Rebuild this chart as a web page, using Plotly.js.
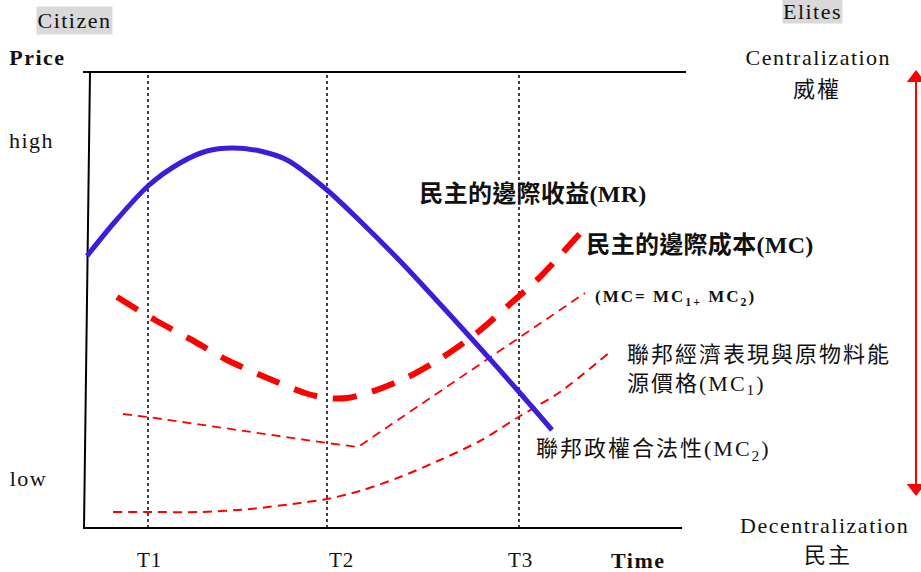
<!DOCTYPE html>
<html>
<head>
<meta charset="utf-8">
<script src="https://cdn.plot.ly/plotly-3.0.1.min.js"></script>
<style>
html,body{margin:0;padding:0;background:#fff;}
#chart{width:921px;height:572px;}
</style>
</head>
<body>
<div id="chart"></div>
<script>
// ---------- data (time units from the vertical axis, price units from the time axis) ----------
const timeTicks = [64, 243, 435];
const timeTickLabels = ['T1', 'T2', 'T3'];
const priceTop = 456;

// Marginal revenue of democracy (MR)
const mrTime  = [3, 29, 64, 96, 123, 148, 176, 203, 243, 276, 316, 356, 396, 436, 468];
const mrPrice = [272, 304, 342, 365, 377, 380, 377, 368, 338, 307, 267, 224, 180, 135, 98];

// Marginal cost of democracy (MC)
const mcTime  = [33, 71, 108, 143, 181, 221, 243, 263, 284, 324, 359, 394, 426, 453, 500];
const mcPrice = [231, 208, 188, 168, 151, 135, 130, 130, 135, 151, 171, 196, 224, 248, 299];

// (MC = MC1 + MC2) thin line
const mcSumTime  = [39, 64, 243, 274, 501];
const mcSumPrice = [114, 111, 85, 81, 235];

// lower thin curve
const mcLowTime  = [29, 64, 116, 166, 216, 243, 276, 316, 356, 396, 436, 476, 526];
const mcLowPrice = [16, 16, 16, 19, 25, 29, 37, 51, 68, 87, 112, 136, 176];

// centralization arrow (right side)
const arrowTime = 832;
const arrowPrice = [40, 450];

// ---------- traces ----------
const black = '#000000';
const red = '#ff0000';
const traces = [
  // axes frame
  {x: [6, 0, 598], y: [priceTop, 0, 0], mode: 'lines', line: {color: black, width: 2}, hoverinfo: 'skip'},
  {x: [-1, 602], y: [priceTop, priceTop], mode: 'lines', line: {color: black, width: 2}, hoverinfo: 'skip'},
  // T1-T3 dotted verticals
  {x: [timeTicks[0], timeTicks[0], null, timeTicks[1], timeTicks[1], null, timeTicks[2], timeTicks[2]],
   y: [0, priceTop, null, 0, priceTop, null, 0, priceTop],
   mode: 'lines', line: {color: black, width: 1.5, dash: 'dot'}, hoverinfo: 'skip'},
  // thin dashed lines
  {x: mcLowTime, y: mcLowPrice, mode: 'lines', line: {color: red, width: 2, dash: '9px,6px', shape: 'spline', smoothing: 0.8}},
  {x: mcSumTime, y: mcSumPrice, mode: 'lines', line: {color: red, width: 1.8, dash: '9px,6px'}},
  // MC thick dashed
  {x: mcTime, y: mcPrice, mode: 'lines', line: {color: red, width: 6, dash: '24px,16px', shape: 'spline', smoothing: 0.8}},
  // MR blue
  {x: mrTime, y: mrPrice, mode: 'lines', line: {color: '#3b1ed8', width: 5, shape: 'spline', smoothing: 0.8}},
  // arrow
  {x: [arrowTime, arrowTime], y: arrowPrice, mode: 'lines', line: {color: red, width: 2}},
  {x: [arrowTime, arrowTime], y: [arrowPrice[1], arrowPrice[0]], mode: 'markers',
   marker: {symbol: ['triangle-up', 'triangle-down'], size: 16, color: red, line: {width: 0}}}
];

// ---------- labels ----------
const serif = 'Liberation Serif, "Noto Sans CJK TC", serif';
const ink = '#111111';
function lab(text, x, y, size, opts) {
  return Object.assign({
    text: text, xref: 'paper', yref: 'paper', x: x / 921, y: 1 - y / 572,
    xanchor: 'center', yanchor: 'middle', showarrow: false,
    font: {family: serif, size: size, color: ink}
  }, opts || {});
}
const spacing = [];
const annotations = [];
function add(a, s) { annotations.push(a); spacing.push(s); }

add(lab('Citizen', 74.5, 20.5, 22, {bgcolor: '#d9d9d9', width: 75, height: 27, borderpad: 0}), 1.5);
add(lab('Elites', 812.5, 11, 22, {bgcolor: '#d9d9d9', width: 59, height: 24, borderpad: 0}), 1.5);
add(lab('<b>Price</b>', 37.5, 57, 22), 1.5);
add(lab('high', 31.5, 140, 22), 1.5);
add(lab('low', 28, 478, 22), 1.5);
add(lab('Centralization', 818, 57, 22), 1.5);
add(lab('威權', 816.5, 89, 22), 2);
add(lab('Decentralization', 824, 525, 22), 1.5);
add(lab('民主', 827.5, 555, 22), 2);
const tickLabelX = [149, 341.5, 520];
timeTickLabels.forEach((t, i) => add(lab(t, tickLabelX[i], 560, 21), 1));
add(lab('<b>Time</b>', 638.5, 560, 22), 1.5);
add(lab('<b>民主的邊際收益(MR)</b>', 533, 194, 24), 0.3);
add(lab('<b>民主的邊際成本(MC)</b>', 700, 245, 24), 0.3);
add(lab('<b>(MC= MC<sub>1+</sub> MC<sub>2</sub>)</b>', 675, 298, 17), 2);
add(lab('聯邦經濟表現與原物料能<br>源價格(MC<sub>1</sub>)', 625, 370, 22, {xanchor: 'left', align: 'left'}), 2);
add(lab('聯邦政權合法性(MC<sub>2</sub>)', 653.5, 450, 22), 2);

const layout = {
  width: 921, height: 572,
  margin: {l: 0, r: 0, t: 0, b: 0, pad: 0},
  paper_bgcolor: '#ffffff', plot_bgcolor: '#ffffff',
  showlegend: false,
  xaxis: {range: [-84, 837], visible: false, fixedrange: true},
  yaxis: {range: [-44, 528], visible: false, fixedrange: true},
  annotations: annotations
};

Plotly.newPlot('chart', traces, layout, {staticPlot: true, displayModeBar: false}).then(function () {
  document.querySelectorAll('g.annotation').forEach(function (g) {
    const idx = +g.getAttribute('data-index');
    const t = g.querySelector('text.annotation-text');
    if (t && spacing[idx]) t.style.letterSpacing = spacing[idx] + 'px';
  });
});
</script>
</body>
</html>
